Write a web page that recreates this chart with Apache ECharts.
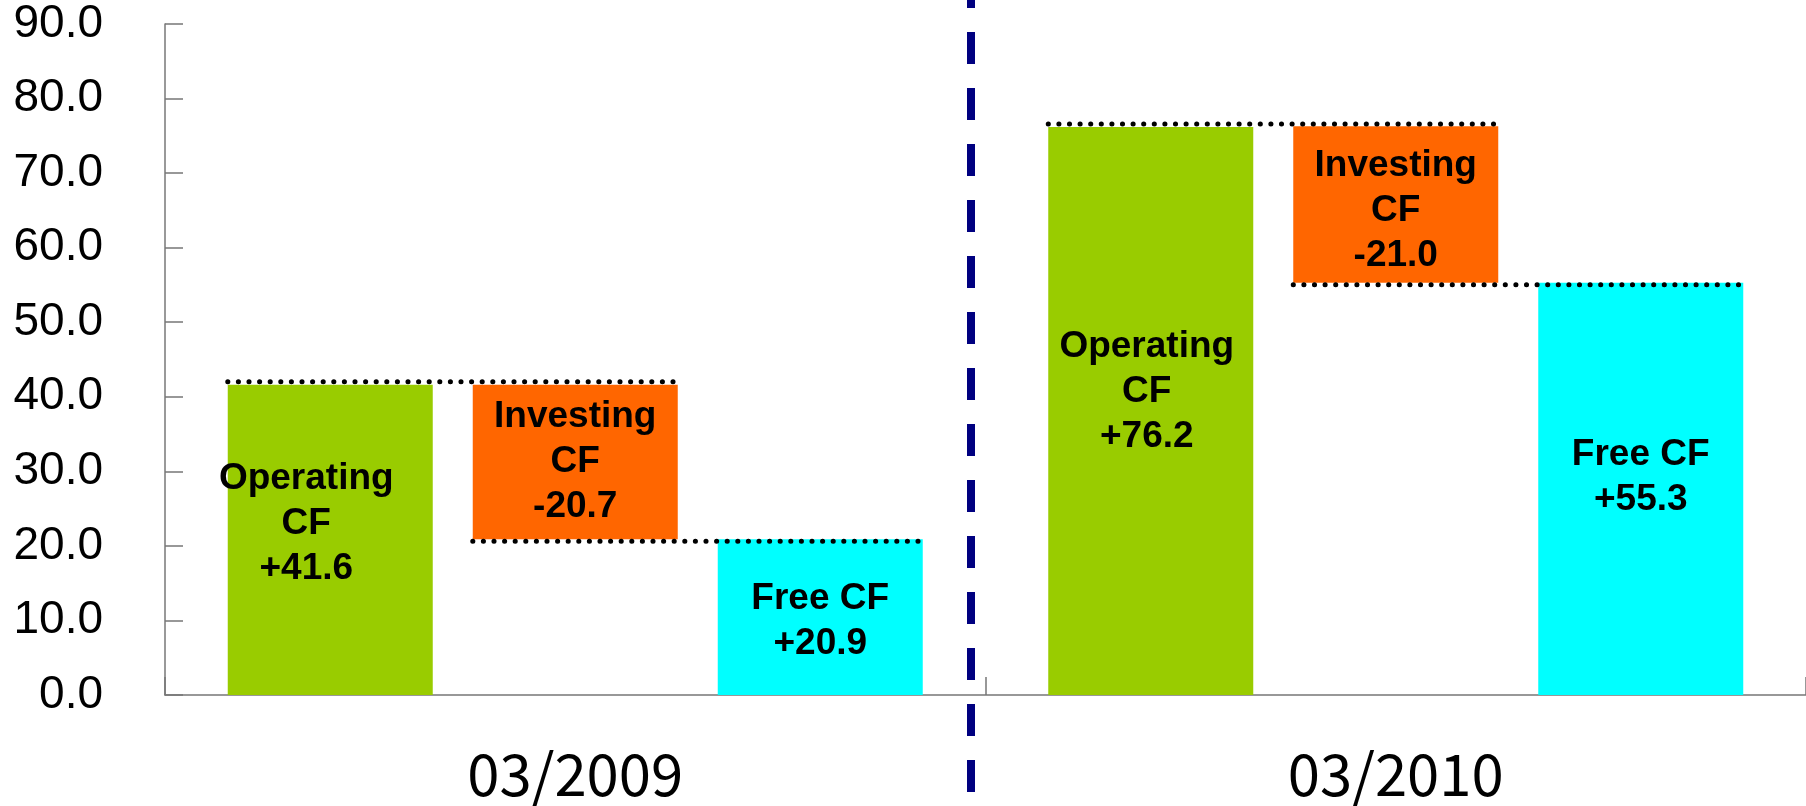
<!DOCTYPE html>
<html>
<head>
<meta charset="utf-8">
<script src="https://cdn.jsdelivr.net/npm/echarts@6/dist/echarts.min.js"></script>
<style>
  html, body { margin: 0; padding: 0; background: #fff; }
  #chart { width: 1806px; height: 806px; }
</style>
</head>
<body>
<div id="chart"></div>
<script>
const categories = ["03/2009", "03/2010"];
const operatingCF = [41.6, 76.2];
const investingCF = [-20.7, -21.0];
const freeCF = [20.9, 55.3];
const yTicks = { min: 0, max: 90, interval: 10 };

(() => {
  const myChart = echarts.init(document.querySelector("#chart"));

  const BAR_W = 205;
  const BAR_GAP = 40;
  const STEP = BAR_W + BAR_GAP;

  const labelFont = {
    color: "#000",
    fontFamily: "Liberation Sans, Arial, sans-serif",
    fontWeight: "bold",
    fontSize: 37,
    lineHeight: 45,
  };

  // label nudges to sit like the original
  const opLabelOffsets = [[-24, -16], [-4, -19]];
  const invLabelOffsets = [[0, 0], [0, 6]];
  const freeLabelOffsets = [[0, 4], [0, -12]];

  // dotted connectors: [category, level, fromSlot, toSlot, yNudge]
  const connectors = [];
  categories.forEach((c, i) => {
    connectors.push([i, operatingCF[i], 0, 1, -3]);
    connectors.push([i, freeCF[i], 1, 2, 2]);
  });

  const option = {
    animation: false,
    grid: { left: 165, right: 0, top: 24, bottom: 111 },
    xAxis: {
      type: "category",
      data: categories,
      axisLine: { lineStyle: { color: "#777", width: 1.5 } },
      axisTick: { show: true, inside: true, length: 18, lineStyle: { color: "#777", width: 1.5 } },
      axisLabel: {
        color: "#000",
        fontFamily: "Noto Sans CJK JP",
        fontSize: 58,
        margin: 50,
      },
    },
    yAxis: {
      type: "value",
      min: yTicks.min,
      max: yTicks.max,
      interval: yTicks.interval,
      splitLine: { show: false },
      axisLine: { show: true, lineStyle: { color: "#777", width: 1.5 } },
      axisTick: { show: true, inside: true, length: 18, lineStyle: { color: "#777", width: 1.5 } },
      axisLabel: {
        color: "#000",
        fontFamily: "Liberation Sans, Arial, sans-serif",
        fontSize: 46,
        margin: 62,
        formatter: (v) => v.toFixed(1),
      },
    },
    series: [
      {
        name: "Operating CF",
        type: "bar",
        stack: "op",
        barWidth: BAR_W,
        barGap: (BAR_GAP / BAR_W * 100) + "%",
        itemStyle: { color: "#99CC00" },
        data: operatingCF.map((v, i) => ({
          value: v,
          label: { offset: opLabelOffsets[i] },
        })),
        label: {
          show: true,
          position: "inside",
          ...labelFont,
          formatter: (p) => "Operating\nCF\n+" + p.value.toFixed(1),
        },
        emphasis: { disabled: true },
      },
      {
        name: "base",
        type: "bar",
        stack: "inv",
        barWidth: BAR_W,
        silent: true,
        itemStyle: { color: "transparent" },
        data: freeCF,
        emphasis: { disabled: true },
      },
      {
        name: "Investing CF",
        type: "bar",
        stack: "inv",
        barWidth: BAR_W,
        itemStyle: { color: "#FF6600" },
        data: investingCF.map((v, i) => ({
          value: Math.abs(v),
          label: { offset: invLabelOffsets[i] },
        })),
        label: {
          show: true,
          position: "inside",
          ...labelFont,
          formatter: (p) => "Investing\nCF\n" + investingCF[p.dataIndex].toFixed(1),
        },
        emphasis: { disabled: true },
      },
      {
        name: "Free CF",
        type: "bar",
        stack: "free",
        barWidth: BAR_W,
        itemStyle: { color: "#00FFFF" },
        data: freeCF.map((v, i) => ({
          value: v,
          label: { offset: freeLabelOffsets[i] },
        })),
        label: {
          show: true,
          position: "inside",
          ...labelFont,
          formatter: (p) => "Free CF\n+" + p.value.toFixed(1),
        },
        emphasis: { disabled: true },
      },
      {
        name: "connectors",
        type: "custom",
        silent: true,
        z: 5,
        data: connectors,
        renderItem: (params, api) => {
          const pt = api.coord([api.value(0), api.value(1)]);
          const x1 = pt[0] + (api.value(2) - 1) * STEP - BAR_W / 2;
          const x2 = pt[0] + (api.value(3) - 1) * STEP + BAR_W / 2;
          const y = pt[1] + api.value(4);
          return {
            type: "line",
            shape: { x1: x1, y1: y, x2: x2, y2: y },
            style: {
              stroke: "#000",
              lineWidth: 5,
              lineCap: "round",
              lineDash: [0.1, 10.5],
            },
          };
        },
      },
    ],
  };
  myChart.setOption(option);

  // vertical dashed divider between the two years
  const c0 = myChart.convertToPixel({ xAxisIndex: 0 }, 0);
  const c1 = myChart.convertToPixel({ xAxisIndex: 0 }, 1);
  const divX = (c0 + c1) / 2 - 14.5;
  myChart.setOption({
    graphic: [
      {
        type: "line",
        silent: true,
        z: 10,
        shape: { x1: divX, y1: 0, x2: divX, y2: 806 },
        style: { stroke: "#000080", lineWidth: 8, lineDash: [32, 24], lineDashOffset: 24 },
      },
    ],
  });

  window.addEventListener("resize", () => {
    myChart.resize();
  });
})();
</script>
</body>
</html>
